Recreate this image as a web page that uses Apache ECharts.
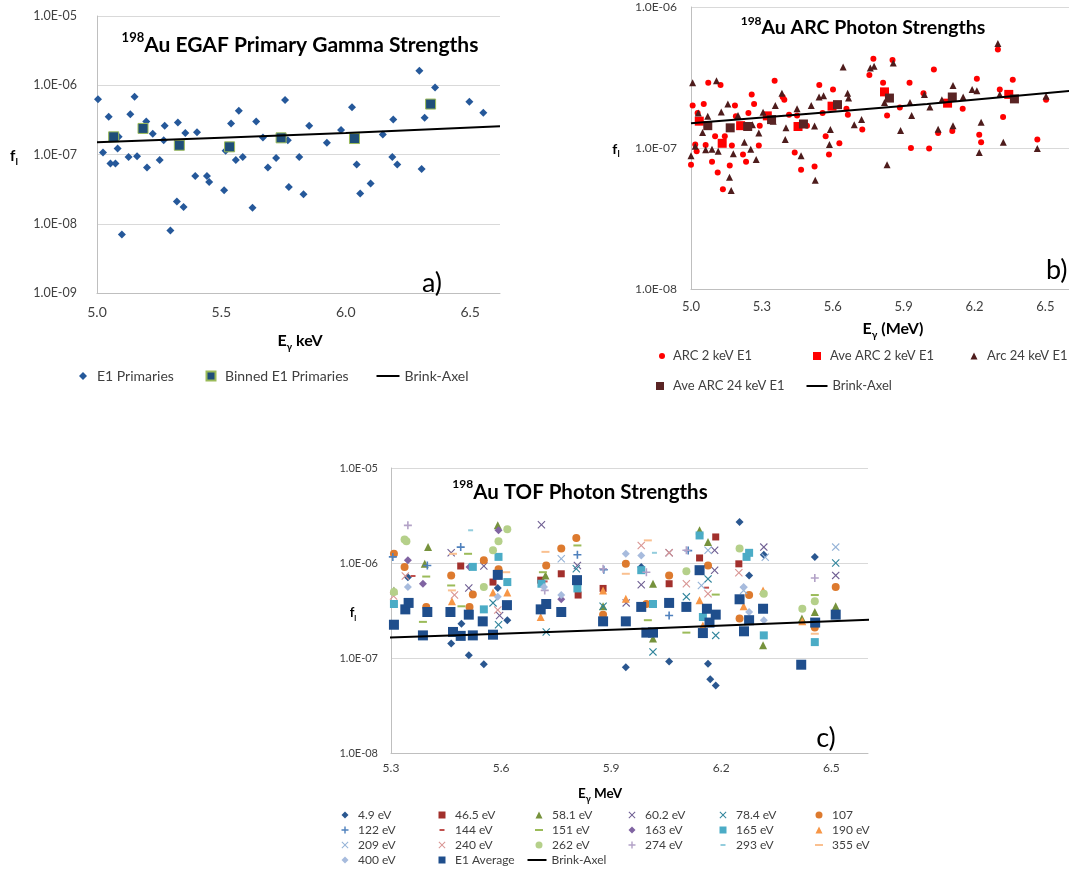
<!DOCTYPE html>
<html>
<head>
<meta charset="utf-8">
<script src="https://cdn.jsdelivr.net/npm/echarts@6/dist/echarts.min.js"></script>
<style>
html, body { margin: 0; background: #fff; }
#chart { width: 1069px; height: 870px; }
</style>
</head>
<body>
<div id="chart"></div>
<script>
// ---- panel a) EGAF primaries
const egafPrimaries = [
  [5.004,6.3e-7],[5.024,1.07e-7],[5.047,3.5e-7],[5.054,7.4e-8],[5.074,7.4e-8],[5.083,1.22e-7],[5.087,1.8e-7],[5.10,7e-9],
  [5.127,9.2e-8],[5.134,3.8e-7],[5.151,6.8e-7],[5.161,9.4e-8],[5.198,3.0e-7],[5.201,6.5e-8],[5.224,2.0e-7],[5.252,8.3e-8],
  [5.268,1.6e-7],[5.272,2.6e-7],[5.295,8e-9],[5.321,2.1e-8],[5.325,2.9e-7],[5.348,1.75e-8],[5.355,2.05e-7],[5.395,4.9e-8],
  [5.402,2.1e-7],[5.442,4.9e-8],[5.451,4.0e-8],[5.511,3.05e-8],[5.517,1.13e-7],[5.539,2.8e-7],[5.558,8.3e-8],[5.570,4.3e-7],
  [5.586,9.2e-8],[5.625,1.7e-8],[5.64,3.0e-7],[5.667,1.76e-7],[5.687,6.5e-8],[5.72,8.9e-8],[5.756,6.1e-7],[5.767,1.6e-7],
  [5.771,3.4e-8],[5.813,9.2e-8],[5.83,2.67e-8],[5.853,2.6e-7],[5.924,1.48e-7],[5.981,2.25e-7],[6.025,4.8e-7],[6.044,7.2e-8],
  [6.058,2.73e-8],[6.10,3.8e-8],[6.149,1.95e-7],[6.187,9.2e-8],[6.191,3.2e-7],[6.207,7.2e-8],[6.296,1.62e-6],[6.305,6.2e-8],
  [6.317,3.4e-7],[6.359,9.3e-7],[6.497,5.8e-7],[6.553,4.0e-7]
];
const egafBinned = [[5.067,1.8e-7],[5.185,2.38e-7],[5.331,1.36e-7],[5.533,1.29e-7],[5.74,1.74e-7],[6.035,1.7e-7],[6.341,5.35e-7]];
const brinkAxel = [[5.0,1.5e-7],[5.5,1.75e-7],[6.0,2.05e-7],[6.62,2.55e-7]];

// ---- panel b) ARC
const arc2 = [
  [5.000,7.6e-8],[5.007,2.0e-7],[5.018,1.06e-7],[5.024,9.5e-8],[5.028,1.77e-7],[5.054,2.05e-7],[5.062,1.05e-7],[5.073,2.9e-7],
  [5.089,8.0e-8],[5.102,1.21e-7],[5.113,6.7e-8],[5.125,2.8e-7],[5.135,5.1e-8],[5.143,1.21e-7],[5.164,7.5e-8],[5.173,1.04e-7],
  [5.186,2.0e-7],[5.19,1.68e-7],[5.22,9.0e-8],[5.233,8.0e-8],[5.243,1.77e-7],[5.257,2.4e-7],[5.267,2.05e-7],[5.287,1.04e-7],
  [5.291,1.44e-7],[5.354,3.0e-7],[5.388,2.3e-7],[5.395,2.2e-7],[5.415,1.72e-7],[5.439,9.3e-8],[5.449,1.7e-7],[5.466,7.0e-8],
  [5.491,1.44e-7],[5.523,7.4e-8],[5.543,2.8e-7],[5.557,1.77e-7],[5.57,1.21e-7],[5.584,9.0e-8],[5.601,2.6e-7],[5.628,1.08e-7],
  [5.658,1.9e-7],[5.664,1.72e-7],[5.725,1.35e-7],[5.755,3.3e-7],[5.772,4.3e-7],[5.813,2.9e-7],[5.83,1.7e-7],[5.853,4.2e-7],
  [5.884,1.94e-7],[5.925,2.9e-7],[5.931,1.0e-7],[5.984,2.45e-7],[6.008,9.9e-8],[6.028,3.6e-7],[6.046,1.28e-7],[6.106,1.32e-7],
  [6.15,1.9e-7],[6.21,3.1e-7],[6.22,1.24e-7],[6.228,1.1e-7],[6.299,5.0e-7],[6.307,2.6e-7],[6.321,1.66e-7],[6.362,3.05e-7],
  [6.466,1.15e-7],[6.503,2.2e-7]
];
const arc2Ave = [[5.035,1.55e-7],[5.132,1.08e-7],[5.21,1.44e-7],[5.323,1.69e-7],[5.453,1.42e-7],[5.597,1.98e-7],[5.819,2.5e-7],[6.086,2.08e-7],[6.345,2.4e-7]];
const arc24 = [
  [5.0,8.8e-8],[5.007,2.9e-7],[5.018,1.03e-7],[5.031,1.77e-7],[5.049,1.29e-7],[5.062,9.7e-8],[5.071,1.68e-7],[5.089,9.8e-8],
  [5.108,3.0e-7],[5.115,9.5e-8],[5.128,1.8e-7],[5.156,2.05e-7],[5.163,6.2e-8],[5.17,5.0e-8],[5.179,9.1e-8],[5.199,1.7e-7],
  [5.226,1.1e-7],[5.253,9.8e-8],[5.26,1.46e-7],[5.276,8.3e-8],[5.287,1.28e-7],[5.305,1.79e-7],[5.348,1.55e-7],[5.357,2.0e-7],
  [5.385,2.45e-7],[5.399,1.15e-7],[5.402,1.39e-7],[5.449,1.9e-7],[5.466,8.8e-8],[5.509,2.0e-7],[5.523,1.43e-7],[5.526,5.9e-8],
  [5.542,2.3e-7],[5.561,2.35e-7],[5.586,1.06e-7],[5.59,1.35e-7],[5.644,3.75e-7],[5.663,2.45e-7],[5.667,2.26e-7],[5.691,1.46e-7],
  [5.722,1.59e-7],[5.759,3.7e-7],[5.775,3.8e-7],[5.819,2.1e-7],[5.83,7.6e-8],[5.856,4.0e-7],[5.887,1.33e-7],[5.927,2.1e-7],
  [5.934,1.7e-7],[5.988,2.4e-7],[6.011,1.95e-7],[6.046,1.36e-7],[6.062,2.2e-7],[6.109,2.77e-7],[6.109,1.44e-7],[6.152,2.3e-7],
  [6.19,2.6e-7],[6.21,2.55e-7],[6.22,9.3e-8],[6.228,1.52e-7],[6.299,5.5e-7],[6.307,2.4e-7],[6.322,1.1e-7],[6.466,9.9e-8],
  [6.503,2.33e-7]
];
const arc24Ave = [[5.071,1.44e-7],[5.166,1.39e-7],[5.24,1.42e-7],[5.341,1.59e-7],[5.476,1.48e-7],[5.62,2.03e-7],[5.84,2.26e-7],[6.106,2.3e-7],[6.369,2.23e-7]];

// ---- panel c) TOF resonances
const tof49 = [[5.346,7.1e-7],[5.464,1.42e-7],[5.492,2.3e-7],[5.512,1.07e-7],[5.553,8.6e-8],[5.591,5.45e-7],[5.617,2.5e-7],[5.94,8.0e-8],[5.982,9.1e-7],[6.058,9.2e-8],[6.164,8.7e-8],[6.17,5.96e-8],[6.185,5.15e-8],[6.25,2.7e-6],[6.276,7.4e-7],[6.316,1.22e-6],[6.455,1.16e-6]];
const tof465 = [[5.49,9.3e-7],[5.578,6.3e-7],[5.708,6.6e-7],[5.764,7.7e-7],[5.81,4.6e-7],[5.878,5.4e-7],[6.058,6.05e-7],[6.141,1.13e-6],[6.185,1.88e-6],[6.248,9.8e-7]];
const tof581 = [[5.308,5.15e-7],[5.392,9.8e-7],[5.401,1.47e-6],[5.591,2.49e-6],[5.721,7.4e-7],[5.878,3.5e-7],[6.014,6.05e-7],[6.014,1.6e-7],[6.141,2.21e-6],[6.164,1.66e-6],[6.314,1.36e-7],[6.42,2.6e-7],[6.455,3.05e-7],[6.512,3.5e-7]];
const tof602 = [[5.464,1.28e-6],[5.512,5.45e-7],[5.553,9.3e-7],[5.596,2.8e-7],[5.71,2.53e-6],[5.808,9.4e-7],[5.941,3.8e-7],[5.982,5.9e-7],[6.058,1.28e-6],[6.182,8.4e-7],[6.182,1.36e-6],[6.316,1.47e-6],[6.512,7.4e-7]];
const tof784 = [[5.578,3.8e-7],[5.593,2.24e-7],[5.723,1.88e-7],[5.805,8.7e-7],[5.878,3.5e-7],[6.014,1.16e-7],[6.105,4.4e-7],[6.164,6.8e-7],[6.185,1.73e-7],[6.512,1.0e-6]];
const tof107 = [[5.308,1.25e-6],[5.337,9.1e-7],[5.396,3.45e-7],[5.464,7.4e-7],[5.514,3.45e-7],[5.523,4.65e-7],[5.553,1.07e-6],[5.593,8.6e-7],[5.723,9.4e-7],[5.764,1.42e-6],[5.805,1.83e-6],[5.878,2.86e-7],[5.94,9.8e-7],[5.996,3.7e-7],[6.058,7.4e-7],[6.164,9.4e-7],[6.25,2.6e-7],[6.276,4.6e-7],[6.455,2.1e-7],[6.512,5.6e-7]];
const tof122 = [[5.305,1.16e-6],[5.399,9.4e-7],[5.49,1.47e-6],[5.808,1.22e-6],[5.88,8.5e-7],[6.058,2.8e-7],[6.11,1.35e-6]];
const tof144 = [[5.36,7.3e-7],[5.72,6.4e-7],[6.16,5.5e-7]];
const tof151 = [[5.387,2.4e-7],[5.396,7.2e-7],[5.464,5.8e-7],[5.492,3.5e-7],[5.51,1.25e-6],[5.714,8.0e-7],[5.808,1.53e-6],[6.0,2.5e-7],[6.105,1.85e-7],[6.185,4.65e-7],[6.455,4.6e-7]];
const tof163 = [[5.346,1.07e-6],[5.387,6.05e-7],[5.514,9.1e-7],[5.593,2.21e-6],[5.764,4.15e-7]];
const tof165 = [[5.308,3.7e-7],[5.523,9.1e-7],[5.553,3.25e-7],[5.593,1.16e-6],[5.617,6.3e-7],[5.71,6.05e-7],[5.808,5.4e-7],[5.982,8.4e-7],[6.014,3.7e-7],[6.141,1.95e-6],[6.15,2.7e-7],[6.269,1.16e-6],[6.276,1.28e-6],[6.316,1.73e-7],[6.455,1.47e-7]];
const tof190 = [[5.466,3.95e-7],[5.578,4.9e-7],[5.617,4.9e-7],[5.708,2.7e-7],[5.878,5.15e-7],[5.94,4.2e-7],[6.141,4.05e-7],[6.15,2.2e-7],[6.261,3.5e-7],[6.314,5.15e-7],[6.421,2.43e-7]];
const tof209 = [[5.764,1.11e-6],[6.146,5.8e-7],[6.164,1.36e-6],[6.261,5.15e-7],[6.32,1.15e-6],[6.512,1.47e-6]];
const tof240 = [[5.307,4.5e-7],[5.339,7.3e-7],[5.473,4.6e-7],[5.591,3.2e-7],[5.982,1.53e-6],[6.058,1.28e-6],[6.105,6.05e-7],[6.164,4.75e-7],[6.248,7.9e-7]];
const tof262 = [[5.308,4.95e-7],[5.337,1.77e-6],[5.342,1.69e-6],[5.553,5.6e-7],[5.578,1.36e-6],[5.593,1.69e-6],[5.617,2.26e-6],[6.105,8.2e-7],[6.25,1.42e-6],[6.316,4.75e-7],[6.421,3.3e-7],[6.455,3.95e-7]];
const tof274 = [[5.346,2.49e-6],[5.719,5.15e-7],[5.878,8.7e-7],[5.996,8.0e-7],[6.105,1.36e-6],[6.455,6.95e-7]];
const tof293 = [[5.517,2.21e-6],[6.018,1.28e-6]];
const tof355 = [[5.466,5.15e-7],[5.469,1.25e-6],[5.614,8.0e-7],[5.721,1.31e-6],[5.94,7.7e-7],[6.0,1.73e-6],[6.455,1.8e-7]];
const tof400 = [[5.346,5.6e-7],[5.591,4.4e-7],[5.717,5.6e-7],[5.764,4.6e-7],[5.94,1.25e-6],[5.982,1.2e-6],[6.261,5.6e-7],[6.276,3.05e-7],[6.316,2.5e-7]];
const tofAverage = [
  [5.308,2.24e-7],[5.339,3.25e-7],[5.348,3.8e-7],[5.387,1.73e-7],[5.399,3.05e-7],[5.462,3.05e-7],[5.469,1.88e-7],[5.49,1.71e-7],
  [5.512,2.86e-7],[5.523,1.73e-7],[5.55,2.43e-7],[5.578,1.76e-7],[5.591,7.5e-7],[5.616,3.6e-7],[5.708,3.25e-7],[5.723,3.7e-7],
  [5.764,3.05e-7],[5.807,6.6e-7],[5.878,2.43e-7],[5.94,2.43e-7],[5.982,3.45e-7],[5.996,1.85e-7],[6.014,1.85e-7],[6.058,3.8e-7],
  [6.105,3.45e-7],[6.141,8.4e-7],[6.15,1.83e-7],[6.161,3.3e-7],[6.168,2.36e-7],[6.185,2.86e-7],[6.25,4.15e-7],[6.262,1.91e-7],
  [6.276,2.5e-7],[6.314,3.3e-7],[6.418,8.5e-8],[6.456,2.36e-7],[6.512,2.86e-7]
];

const FONT = 'Lato, "Open Sans", sans-serif';
const TXT = '#404040';
const PLUS = 'path://M4,0h2v4h4v2h-4v4h-2v-4h-4v-2h4z';
const CROSS = 'path://M1,0L5,4L9,0L10,1L6,5L10,9L9,10L5,6L1,10L0,9L4,5L0,1Z';

// [name, data, symbol, size, color]
const tofSeries = [
  ['4.9 eV', tof49, 'diamond', 8, '#2a5790'],
  ['46.5 eV', tof465, 'rect', 7, '#a2302c'],
  ['58.1 eV', tof581, 'triangle', 8, '#76923c'],
  ['60.2 eV', tof602, CROSS, 8, '#6f5f93'],
  ['78.4 eV', tof784, CROSS, 8, '#31859c'],
  ['107', tof107, 'circle', 8, '#dd7a2e'],
  ['122 eV', tof122, PLUS, 8, '#4f81bd'],
  ['144 eV', tof144, 'rect', [5, 2], '#c0504d'],
  ['151 eV', tof151, 'rect', [8, 2], '#9bbb59'],
  ['163 eV', tof163, 'diamond', 8, '#8064a2'],
  ['165 eV', tof165, 'rect', 8, '#4bacc6'],
  ['190 eV', tof190, 'triangle', 8, '#f79646'],
  ['209 eV', tof209, CROSS, 8, '#95b3d7'],
  ['240 eV', tof240, CROSS, 8, '#d99694'],
  ['262 eV', tof262, 'circle', 8, '#b5d08a'],
  ['274 eV', tof274, PLUS, 8, '#b3a2c7'],
  ['293 eV', tof293, 'rect', [5, 2], '#93cddd'],
  ['355 eV', tof355, 'rect', [8, 2], '#fac090'],
  ['400 eV', tof400, 'diamond', 8, '#a7bbdd'],
  ['E1 Average', tofAverage, 'rect', 10, '#1f4e8c']
];

function expLabel(v) {
  const e = Math.round(Math.log10(v));
  return '1.0E' + (e < 0 ? '-' : '+') + String(Math.abs(e)).padStart(2, '0');
}

function yAxis(gi, min, max, fs, margin) {
  return {
    type: 'log', logBase: 10, gridIndex: gi, min: min, max: max,
    axisLine: { show: true, onZero: false, lineStyle: { color: '#bfbfbf' } },
    axisTick: { show: false },
    splitLine: { show: true, lineStyle: { color: '#d9d9d9' } },
    axisLabel: { formatter: expLabel, fontSize: fs, color: TXT, fontFamily: FONT, margin: margin }
  };
}

function xAxis(gi, min, max, step, labelStep, fs, margin) {
  return {
    type: 'value', gridIndex: gi, min: min, max: max, interval: step,
    axisLine: { onZero: false, lineStyle: { color: '#bfbfbf' } },
    axisTick: { show: false },
    splitLine: { show: false },
    axisLabel: {
      fontSize: fs, color: TXT, fontFamily: FONT, margin: margin, showMaxLabel: false,
      formatter: function (v) {
        const k = (v - min) / labelStep;
        return Math.abs(k - Math.round(k)) < 1e-6 ? v.toFixed(1) : '';
      }
    }
  };
}

function scatter(name, data, gi, symbol, size, color, border) {
  return {
    name: name, type: 'scatter', xAxisIndex: gi, yAxisIndex: gi, data: data,
    symbol: symbol, symbolSize: size,
    itemStyle: border ? { color: color, borderColor: border, borderWidth: 1, opacity: 1 } : { color: color, opacity: 1 }
  };
}

function brink(gi) {
  return {
    name: 'Brink-Axel', type: 'line', xAxisIndex: gi, yAxisIndex: gi, data: brinkAxel,
    symbol: 'none', clip: true, lineStyle: { color: '#000', width: 2 }, itemStyle: { color: '#000' }
  };
}

// legend entry: icon centred at (x, y), text starts at tx
function legendAt(name, x, y, w, h, tx, fs, icon) {
  const lh = Math.max(h, fs + 2);
  return {
    data: [icon ? { name: name, icon: icon } : name],
    left: x - w / 2, top: y - lh / 2, itemWidth: w, itemHeight: h,
    padding: 0, itemGap: 0, selectedMode: false,
    textStyle: { fontSize: fs, color: TXT, fontFamily: FONT, padding: [0, 0, 0, Math.max(0, tx - (x + w / 2 + 5))] }
  };
}

const legends = [
  legendAt('E1 Primaries', 83, 377, 8, 8, 97, 14),
  legendAt('Binned E1 Primaries', 210, 377, 9, 9, 224, 14),
  legendAt('Brink-Axel', 388, 377, 23, 2, 402, 14, 'rect'),
  legendAt('ARC 2 keV E1', 662, 357, 6, 6, 673, 13),
  legendAt('Ave ARC 2 keV E1', 817, 357, 8, 8, 830, 13),
  legendAt('Arc 24 keV E1', 974, 357, 7, 7, 987, 13),
  legendAt('Ave ARC 24 keV E1', 660, 387, 8, 8, 673, 13),
  legendAt('Brink-Axel', 817, 387, 21, 2, 829, 13, 'rect')
];
const colX = [345, 442, 539, 632, 723, 819];
const rowY = [816, 831, 846, 861];
tofSeries.forEach(function (s, i) {
  const sz = Array.isArray(s[3]) ? s[3] : [7, 7];
  const cx = colX[i % 6], cy = rowY[Math.floor(i / 6)];
  legends.push(legendAt(s[0], cx, cy, sz[0], sz[1], cx + 13, 12));
});
legends.push(legendAt('Brink-Axel', 537, 861, 19, 2, 548, 12, 'rect'));

const series = [
  scatter('E1 Primaries', egafPrimaries, 0, 'diamond', 8, '#25589a'),
  scatter('Binned E1 Primaries', egafBinned, 0, 'rect', 10, '#1f4e79', '#9bbb59'),
  brink(0),
  scatter('ARC 2 keV E1', arc2, 1, 'circle', 6, '#ff0000'),
  scatter('Ave ARC 2 keV E1', arc2Ave, 1, 'rect', 9, '#ff0000'),
  scatter('Arc 24 keV E1', arc24, 1, 'triangle', 7, '#4e1c1c'),
  scatter('Ave ARC 24 keV E1', arc24Ave, 1, 'rect', 9, '#5a2424'),
  brink(1)
];
tofSeries.forEach(function (s) { series.push(scatter(s[0], s[1], 2, s[2], s[3], s[4])); });
series.push(brink(2));

const titleRich = function (fs) {
  return {
    sup: { fontSize: Math.round(fs * 0.6), fontWeight: 'bold', fontFamily: FONT, verticalAlign: 'top', lineHeight: Math.round(fs * 0.75) },
    t: { fontSize: fs, fontWeight: 'bold', fontFamily: FONT, lineHeight: Math.round(fs * 1.3) }
  };
};
const subRich = function (fs) {
  return {
    b: { fontSize: fs, fontWeight: 'bold', fontFamily: FONT, lineHeight: Math.round(fs * 1.4) },
    sub: { fontSize: Math.round(fs * 0.65), fontWeight: 'bold', fontFamily: FONT, verticalAlign: 'bottom', lineHeight: Math.round(fs * 0.7) }
  };
};
function txt(x, y, text, rich, extra) {
  return {
    type: 'text', x: x, y: y, z: 100,
    style: Object.assign({ text: text, rich: rich, fill: '#000', align: 'center', verticalAlign: 'middle', font: '14px ' + FONT }, extra || {})
  };
}

const graphics = [
  txt(300, 45, '{sup|198}{t|Au EGAF Primary Gamma Strengths}', titleRich(21)),
  txt(863, 28, '{sup|198}{t|Au ARC Photon Strengths}', titleRich(19.5)),
  txt(580, 492, '{sup|198}{t|Au TOF Photon Strengths}', titleRich(20.5)),
  txt(14, 156, '{b|f}{sub|l}', subRich(15)),
  txt(616, 149, '{b|f}{sub|l}', subRich(14)),
  txt(353, 613, '{b|f}{sub|l}', subRich(13)),
  txt(300, 341, '{b|E}{sub|γ}{b| keV}', subRich(16)),
  txt(893, 329, '{b|E}{sub|γ}{b| (MeV)}', subRich(16)),
  txt(600, 794, '{b|E}{sub|γ}{b| MeV}', subRich(13.5)),
  { type: 'text', x: 432, y: 283, z: 100, style: { text: 'a)', fill: '#000', font: '27px ' + FONT, align: 'center', verticalAlign: 'middle' } },
  { type: 'text', x: 1046, y: 270, z: 100, style: { text: 'b)', fill: '#000', font: '27px ' + FONT, align: 'left', verticalAlign: 'middle' } },
  { type: 'text', x: 826, y: 738, z: 100, style: { text: 'c)', fill: '#000', font: '27px ' + FONT, align: 'center', verticalAlign: 'middle' } }
];

const chart = echarts.init(document.getElementById('chart'), null, { renderer: 'canvas' });
chart.setOption({
  animation: false,
  backgroundColor: '#ffffff',
  textStyle: { fontFamily: FONT },
  grid: [
    { left: 97, top: 16, width: 403, height: 277 },
    { left: 691, top: 7, width: 396, height: 282 },
    { left: 391, top: 468, width: 477, height: 285 }
  ],
  xAxis: [
    xAxis(0, 5.0, 6.62, 0.5, 0.5, 14, 12),
    xAxis(1, 5.0, 6.6, 0.1, 0.3, 13, 11),
    xAxis(2, 5.3, 6.6, 0.1, 0.3, 12, 9)
  ],
  yAxis: [
    yAxis(0, 1e-9, 1e-5, 12.5, 20),
    yAxis(1, 1e-8, 1e-6, 12, 14),
    yAxis(2, 1e-8, 1e-5, 11, 13)
  ],
  legend: legends,
  series: series,
  graphic: graphics
});
</script>
</body>
</html>
